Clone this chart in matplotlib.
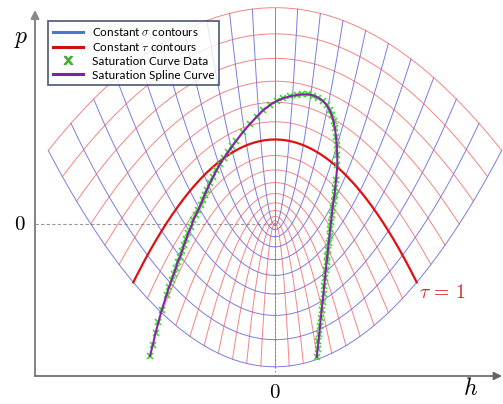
import numpy as np
import matplotlib
matplotlib.use("Agg")
import matplotlib.pyplot as plt
from matplotlib.lines import Line2D

plt.rcParams['mathtext.fontset'] = 'cm'

# 座標格線的參數值
sigma_levels = np.round(np.linspace(-1.3, 1.3, 21), 3)
tau_levels = np.round(np.linspace(0.0, 1.6, 17), 3)
tau_marked = 1.0

# 飽和曲線資料 (h, p)
sat_h = [-1.147, -1.121, -1.096, -1.069, -1.039, -0.995, -0.972, -0.948, -0.929, -0.908,
         -0.894, -0.872, -0.853, -0.835, -0.814, -0.795, -0.769, -0.750, -0.727, -0.704,
         -0.683, -0.665, -0.646, -0.627, -0.596, -0.569, -0.537, -0.505, -0.468, -0.431,
         -0.394, -0.358, -0.291, -0.229, -0.168, -0.110, -0.046, 0.014, 0.076, 0.138,
         0.199, 0.252, 0.306, 0.353, 0.397, 0.440, 0.474, 0.500, 0.520, 0.537,
         0.550, 0.560, 0.566, 0.571, 0.572, 0.560, 0.552, 0.546, 0.537, 0.528,
         0.521, 0.514, 0.506, 0.500, 0.493, 0.486, 0.480, 0.474, 0.466, 0.459,
         0.451, 0.445, 0.437, 0.428, 0.420, 0.413, 0.406, 0.399, 0.391, 0.383]
sat_p = [-0.781, -0.716, -0.645, -0.580, -0.509, -0.420, -0.373, -0.331, -0.296, -0.260,
         -0.225, -0.195, -0.160, -0.124, -0.089, -0.053, -0.018, 0.024, 0.053, 0.083,
         0.112, 0.142, 0.172, 0.201, 0.243, 0.278, 0.317, 0.355, 0.391, 0.426,
         0.459, 0.491, 0.546, 0.592, 0.635, 0.672, 0.704, 0.728, 0.744, 0.756,
         0.763, 0.767, 0.767, 0.760, 0.747, 0.728, 0.704, 0.675, 0.645, 0.609,
         0.566, 0.515, 0.467, 0.408, 0.349, 0.260, 0.213, 0.172, 0.136, 0.095,
         0.053, 0.012, -0.030, -0.071, -0.112, -0.154, -0.189, -0.225, -0.272, -0.320,
         -0.367, -0.414, -0.462, -0.509, -0.556, -0.604, -0.651, -0.692, -0.740, -0.787]

fig = plt.figure(figsize=(5.03, 4.04), dpi=100)
ax = fig.add_axes([0, 0, 1, 1])
ax.set_xlim(-275 / 109, 228 / 109)
ax.set_ylim(-180 / 169, 224 / 169)
ax.axis('off')

s_max = sigma_levels.max()
t_max = tau_levels.max()

# 固定 sigma 的曲線 (藍)
t = np.linspace(0, t_max, 200)
for s in sigma_levels:
    ax.plot(s * t, (t**2 - s**2) / 2, color='#5050e0', lw=0.7, alpha=0.75, zorder=2)

# 固定 tau 的曲線 (紅)
s = np.linspace(-s_max, s_max, 300)
for tt in tau_levels:
    if tt == tau_marked:
        continue
    ax.plot(s * tt, (tt**2 - s**2) / 2, color='#f05050', lw=0.7, alpha=0.7, zorder=2)
ax.plot(s * tau_marked, (tau_marked**2 - s**2) / 2, color='#e01010', lw=1.6, zorder=3)

# 參考虛線
ax_x = -240 / 109
ax_y = -152 / 169
ax.plot([ax_x, 0], [0, 0], color='#999999', lw=0.8, ls=(0, (3, 2)), zorder=1)
ax.plot([0, 0], [ax_y, 0], color='#999999', lw=0.8, ls=(0, (1.5, 2)), zorder=1)

# 飽和曲線
ax.plot(sat_h, sat_p, ls='none', marker='x', ms=5, mew=1.2, color='#3ddc2f', zorder=4)
ax.plot(sat_h, sat_p, color='#8a22aa', lw=1.5, zorder=5)

# 座標軸箭頭
ax.annotate('', xy=(ax_x, 214 / 169), xytext=(ax_x, ax_y),
            arrowprops=dict(arrowstyle='-|>', color='#888888', lw=1.5,
                            mutation_scale=12, shrinkA=0, shrinkB=0))
ax.annotate('', xy=(227 / 109, ax_y), xytext=(ax_x, ax_y),
            arrowprops=dict(arrowstyle='-|>', color='#666666', lw=1.2,
                            mutation_scale=12, shrinkA=0, shrinkB=0))

ax.text(-254 / 109, 186 / 169, r'$p$', fontsize=17, ha='center', va='center')
ax.text(196 / 109, -164 / 169, r'$h$', fontsize=17, ha='center', va='center')
ax.text(-255 / 109, 0, r'$0$', fontsize=15, ha='center', va='center')
ax.text(0, -168 / 169, r'$0$', fontsize=15, ha='center', va='center')
ax.text(167 / 109, -69 / 169, r'$\tau \,=\, 1$', fontsize=14, color='#dd2222',
        ha='center', va='center')

handles = [
    Line2D([], [], color='#4a78d0', lw=2.2),
    Line2D([], [], color='#cc1111', lw=2.2),
    Line2D([], [], ls='none', marker='$\\mathsf{x}$', ms=6, color='#44aa33'),
    Line2D([], [], color='#7b22aa', lw=2.2),
]
labels = ['Constant $\\sigma$ contours', 'Constant $\\tau$ contours',
          'Saturation Curve Data', 'Saturation Spline Curve']
leg = ax.legend(handles, labels, loc='upper left', bbox_to_anchor=(48 / 503, 1 - 21 / 404),
                prop={'family': 'Lato', 'size': 8.5}, frameon=True, fancybox=False,
                handlelength=2.6, handletextpad=0.7, labelspacing=0.25,
                borderpad=0.4, borderaxespad=0)
leg.get_frame().set_edgecolor('#2f3d5c')
leg.get_frame().set_linewidth(1.3)
leg.set_zorder(10)

fig.savefig('out.png', dpi=100)
